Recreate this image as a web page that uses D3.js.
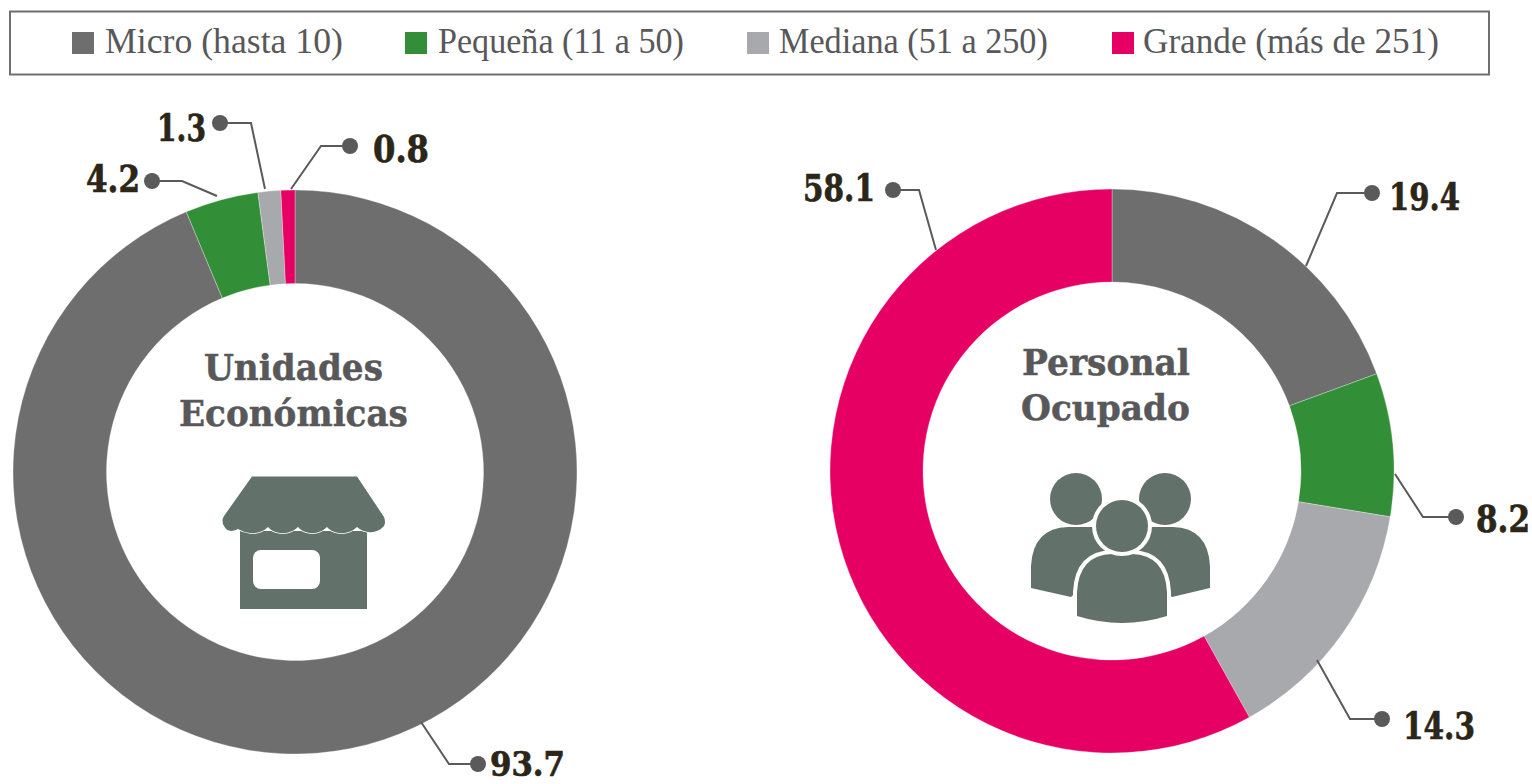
<!DOCTYPE html>
<html lang="es"><head><meta charset="utf-8">
<script src="https://cdn.jsdelivr.net/npm/d3@7"></script>
<style>html,body{margin:0;padding:0;background:#fff;overflow:hidden}svg{display:block}</style>
</head><body><svg id="c" width="1532" height="784"></svg>
<script>
const categories = ["Micro (hasta 10)", "Pequeña (11 a 50)", "Mediana (51 a 250)", "Grande (más de 251)"];
const unidades = [93.7, 4.2, 1.3, 0.8];
const personal = [19.4, 8.2, 14.3, 58.1];
const unidadesTitle = ["Unidades", "Económicas"];
const personalTitle = ["Personal", "Ocupado"];
const colors = ["#6e6e6e", "#338f37", "#a8a9ad", "#e70063"];

const legendLayout = [[72, 105, 343], [405, 438, 684], [747, 779, 1048], [1112, 1143, 1439]];
// leader: start, elbow, dot; label: x0, x1, baseline, font size
const unidadesCallouts = [
  {pts: [[421,722],[449,764],[478,764]], lab: [490,565,776,33]},
  {pts: [[217,196],[182,181],[152,181]], lab: [86,140,192,37]},
  {pts: [[265,189],[251,123],[220,123]], lab: [157,206,141,37]},
  {pts: [[291,189],[321,146],[350,146]], lab: [373,429,162,37]}];
const personalCallouts = [
  {pts: [[1306,266],[1337,193],[1372,193]], lab: [1389,1460,210,37]},
  {pts: [[1395,474],[1423,517],[1456,517]], lab: [1476,1530,532,37]},
  {pts: [[1317,660],[1350,719],[1382,719]], lab: [1403,1475,739,37]},
  {pts: [[936,250],[919,190],[893,190]], lab: [803,875,201,37]}];

const svg = d3.select("#c");
const serif = "'Liberation Serif','DejaVu Serif',serif";
const slab = "'DejaVu Serif',serif";
const iconCol = "#62716a";

// Horizontal fit through a scale, so the text box matches what is drawn.
function fitted(x0, x1, y, size, family, weight, fill, stroke, str){
  const t = svg.append("text").attr("x",0).attr("y",0)
    .attr("font-family",family).attr("font-weight",weight).attr("font-size",size)
    .attr("fill",fill).attr("stroke",stroke?fill:"none").attr("stroke-width",stroke||0).text(str);
  const w = t.node().getComputedTextLength();
  t.attr("transform",`translate(${x0},${y}) scale(${(x1-x0)/w},1)`);
  return t;
}

svg.append("rect").attr("x",10).attr("y",11.5).attr("width",1479).attr("height",63)
  .attr("fill","#fff").attr("stroke","#6f6f6f").attr("stroke-width",2);
categories.forEach((c,i)=>{
  const [sx,tx,te]=legendLayout[i];
  svg.append("rect").attr("x",sx).attr("y",32).attr("width",22).attr("height",22).attr("fill",colors[i]);
  fitted(tx,te,53,36,serif,400,"#58585a",0,c);
});

const pie = d3.pie().sort(null).value(d=>d);
const line = d3.line();
function donut(values, cx, cy, outer, inner, callouts, title, titleLayout){
  const arc = d3.arc().innerRadius(inner).outerRadius(outer);
  const g = svg.append("g").attr("transform",`translate(${cx},${cy})`);
  g.selectAll("path").data(pie(values)).join("path").attr("d",arc)
    .attr("fill",(d,i)=>colors[i]).attr("stroke","#fff").attr("stroke-width",0.3);
  values.forEach((v,i)=>{
    const k=callouts[i];
    svg.append("path").attr("d",line(k.pts)).attr("fill","none").attr("stroke","#5a5a5a").attr("stroke-width",2);
    const e=k.pts[2];
    svg.append("circle").attr("cx",e[0]).attr("cy",e[1]).attr("r",8).attr("fill","#5a5a5a");
    fitted(k.lab[0],k.lab[1],k.lab[2],k.lab[3],slab,700,"#2b2618",0.7,v.toFixed(1));
  });
  title.forEach((t,i)=>{
    const [x0,x1,y]=titleLayout[i];
    fitted(x0,x1,y,36,slab,700,"#58585a",0.5,t);
  });
}
donut(unidades,295,472,282,188.5,unidadesCallouts,unidadesTitle,[[204,383,380],[179,408,426]]);
donut(personal,1112,471,282,189,personalCallouts,personalTitle,[[1022,1190,375],[1021,1190,420]]);

// shop icon
const shop = svg.append("g").attr("fill",iconCol);
shop.append("rect").attr("x",240).attr("y",531).attr("width",127).attr("height",78);
shop.append("rect").attr("x",253).attr("y",550).attr("width",67).attr("height",39).attr("rx",8).attr("fill","#fff");
shop.append("path").attr("stroke","#fff").attr("stroke-width",1.6).attr("paint-order","stroke")
  .attr("d","M252,476.5H357L384,517Q386,522 384,526Q378,533 368,532Q361,531 357,527Q350,534 339,533Q331,532 327,527Q320,534 310,533Q302,532 298,527Q291,534 280,533Q272,532 268,527Q261,534 250,533Q243,532 238,529Q228,534 224,526Q221,521 224,516Z");

// people icon
const ppl = svg.append("g").attr("fill",iconCol);
ppl.append("circle").attr("cx",1076).attr("cy",499).attr("r",26);
ppl.append("circle").attr("cx",1165).attr("cy",499).attr("r",26);
ppl.append("path").attr("d","M1031,588V566Q1033,528 1068,527H1100L1110,560L1071,597Z");
ppl.append("path").attr("d","M1210,588V566Q1208,528 1173,527H1141L1131,560L1172,597Z");
ppl.append("path").attr("stroke","#fff").attr("stroke-width",8).attr("paint-order","stroke")
  .attr("d","M1077,616V592Q1079,555 1112,554H1132Q1165,555 1167,592V616Q1122,630 1077,616Z");
ppl.append("circle").attr("cx",1122).attr("cy",526).attr("r",26).attr("stroke","#fff").attr("stroke-width",8).attr("paint-order","stroke");
</script></body></html>
